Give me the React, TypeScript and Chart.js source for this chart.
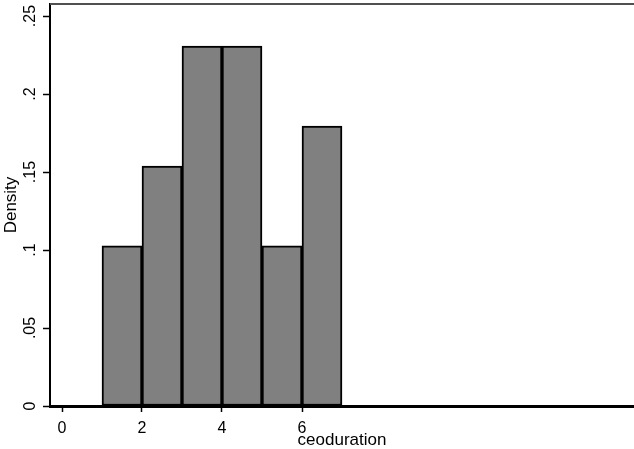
import React, { useEffect, useRef } from "react";
import { Chart, registerables } from "chart.js";

Chart.register(...registerables);

// Histogram bins (start of each bin, width 1) and densities
const binStarts = [1, 2, 3, 4, 5, 6];
const densities = [0.1026, 0.1538, 0.2308, 0.2308, 0.1026, 0.1795];
const binWidth = 1;

const xTicks = [0, 2, 4, 6];
const yTicks = [0, 0.05, 0.1, 0.15, 0.2, 0.25];
const yTickLabels = ["0", ".05", ".1", ".15", ".2", ".25"];
const xTitle = "ceoduration";
const yTitle = "Density";

const FONT = "'Liberation Sans', Arial, sans-serif";

const extrasPlugin = {
  id: "stataExtras",
  afterDraw(chart: any) {
    const { ctx, chartArea, scales } = chart;
    const y = scales.y;
    ctx.save();
    // top border
    ctx.strokeStyle = "#505050";
    ctx.lineWidth = 2;
    ctx.beginPath();
    ctx.moveTo(chartArea.left, chartArea.top);
    ctx.lineTo(chartArea.right, chartArea.top);
    ctx.stroke();
    // rotated y tick labels
    ctx.fillStyle = "#000";
    ctx.font = `16px ${FONT}`;
    ctx.textAlign = "center";
    ctx.textBaseline = "alphabetic";
    yTicks.forEach((v, i) => {
      const py = y.getPixelForValue(v);
      ctx.save();
      ctx.translate(35, py);
      ctx.rotate(-Math.PI / 2);
      ctx.fillText(yTickLabels[i], 0, 0);
      ctx.restore();
    });
    ctx.restore();
  },
};

export default function App() {
  const ref = useRef<HTMLCanvasElement | null>(null);

  useEffect(() => {
    if (!ref.current) return;
    const chart = new Chart(ref.current, {
      type: "bar",
      data: {
        datasets: [
          {
            data: binStarts.map((s, i) => ({ x: s + binWidth / 2, y: densities[i] })),
            backgroundColor: "#808080",
            borderColor: "#000",
            borderWidth: 2,
            borderSkipped: false,
            barPercentage: 1,
            categoryPercentage: 1,
          } as any,
        ],
      },
      options: {
        animation: false,
        responsive: false,
        devicePixelRatio: 1,
        layout: { padding: { top: 4, left: 0, right: 0, bottom: 0 } },
        plugins: { legend: { display: false }, tooltip: { enabled: false } },
        scales: {
          x: {
            type: "linear",
            offset: false,
            min: -0.3,
            max: 14.3,
            afterBuildTicks: (s: any) => {
              s.ticks = xTicks.map((v) => ({ value: v }));
            },
            afterFit: (s: any) => {
              s.height = 43;
            },
            ticks: {
              color: "#000",
              font: { family: FONT, size: 16 },
              padding: 7,
              maxRotation: 0,
              autoSkip: false,
              callback: (v: any) => String(v),
            },
            grid: {
              offset: false,
              drawOnChartArea: false,
              drawTicks: true,
              tickLength: 6,
              tickColor: "#000",
              tickWidth: 1.5,
            },
            border: { display: true, color: "#000", width: 3 },
            title: {
              display: true,
              text: xTitle,
              color: "#000",
              font: { family: FONT, size: 17 },
              padding: { top: 0, bottom: -2 },
            },
          },
          y: {
            type: "linear",
            min: 0,
            max: 0.2577,
            afterBuildTicks: (s: any) => {
              s.ticks = yTicks.map((v) => ({ value: v }));
            },
            afterFit: (s: any) => {
              s.width = 50;
            },
            ticks: { display: false },
            grid: {
              drawOnChartArea: false,
              drawTicks: true,
              tickLength: 7,
              tickColor: "#000",
              tickWidth: 1.5,
            },
            border: { display: true, color: "#000", width: 2 },
            title: {
              display: true,
              text: yTitle,
              color: "#000",
              font: { family: FONT, size: 17 },
              padding: { top: 1, bottom: 0 },
            },
          },
        },
      },
      plugins: [extrasPlugin],
    });
    return () => chart.destroy();
  }, []);

  return (
    <div style={{ position: "absolute", left: 0, top: 0, width: 634, height: 449, background: "#fff" }}>
      <canvas ref={ref} width={634} height={449} style={{ display: "block" }} />
    </div>
  );
}
